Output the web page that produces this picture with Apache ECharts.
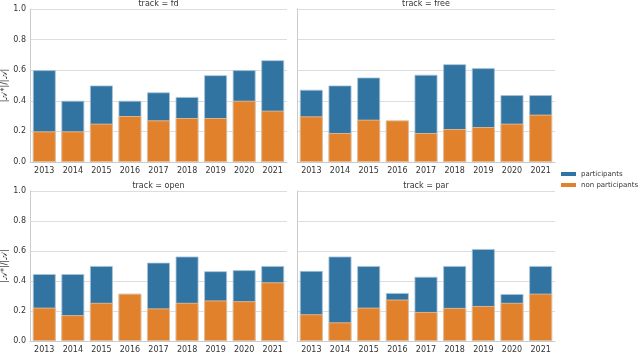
<!DOCTYPE html>
<html>
<head>
<meta charset="utf-8">
<script src="https://cdn.jsdelivr.net/npm/echarts@6/dist/echarts.min.js"></script>
<style>
  html, body { margin: 0; padding: 0; background: #fff; }
  #chart { width: 640px; height: 354px; }
</style>
</head>
<body>
<div id="chart"></div>
<script>
const years = ['2013', '2014', '2015', '2016', '2017', '2018', '2019', '2020', '2021']
const tracks = ['fd', 'free', 'open', 'par']
const yTicks = [0, 0.2, 0.4, 0.6, 0.8, 1.0]

// bar top of the blue bar (drawn behind) and the orange bar (drawn in front)
const fdParticipants = [0.60, 0.40, 0.50, 0.40, 0.455, 0.425, 0.567, 0.60, 0.665]
const fdNonParticipants = [0.20, 0.20, 0.25, 0.30, 0.272, 0.287, 0.287, 0.40, 0.335]
const freeParticipants = [0.472, 0.50, 0.552, 0.27, 0.57, 0.639, 0.613, 0.437, 0.437]
const freeNonParticipants = [0.298, 0.189, 0.276, 0.272, 0.189, 0.215, 0.228, 0.25, 0.309]
const openParticipants = [0.446, 0.446, 0.50, 0.315, 0.522, 0.563, 0.465, 0.472, 0.50]
const openNonParticipants = [0.222, 0.172, 0.254, 0.315, 0.217, 0.254, 0.27, 0.265, 0.391]
const parParticipants = [0.467, 0.563, 0.50, 0.32, 0.428, 0.50, 0.613, 0.313, 0.50]
const parNonParticipants = [0.178, 0.124, 0.222, 0.276, 0.193, 0.22, 0.233, 0.254, 0.315]

const participants = [fdParticipants, freeParticipants, openParticipants, parParticipants]
const nonParticipants = [fdNonParticipants, freeNonParticipants, openNonParticipants, parNonParticipants]

const blue = '#3274a1'
const orange = '#e1812c'
const font = 'DejaVu Sans'

const panels = [
  { left: 30, top: 9, width: 257 },
  { left: 297, top: 9, width: 258 },
  { left: 30, top: 191, width: 257 },
  { left: 297, top: 191, width: 258 }
]
const panelHeight = 153

const chart = echarts.init(document.getElementById('chart'))

const grid = panels.map(p => ({ left: p.left, top: p.top, width: p.width, height: panelHeight }))

const title = panels.map((p, i) => ({
  text: 'track = ' + tracks[i],
  left: p.left + p.width / 2,
  top: p.top - 9,
  textAlign: 'center',
  padding: 0,
  textStyle: { fontFamily: font, fontSize: 8, fontWeight: 'normal', color: '#333' }
}))

const xAxis = panels.map((p, i) => ({
  type: 'category',
  gridIndex: i,
  data: years,
  axisLine: { lineStyle: { color: '#cccccc', width: 1 } },
  axisTick: { show: false },
  axisLabel: { fontFamily: font, fontSize: 8, color: '#333', margin: 5 }
}))

const yAxis = panels.map((p, i) => ({
  type: 'value',
  gridIndex: i,
  min: yTicks[0],
  max: yTicks[yTicks.length - 1],
  interval: 0.2,
  name: i % 2 === 0 ? '|𝒜*|/|𝒜|' : '',
  nameLocation: 'middle',
  nameGap: 21,
  nameTextStyle: { fontFamily: font, fontSize: 8, color: '#333' },
  axisLine: { show: true, lineStyle: { color: '#cccccc', width: 1 } },
  axisTick: { show: false },
  splitLine: { lineStyle: { color: '#dddddd', width: 1 } },
  axisLabel: {
    show: i % 2 === 0,
    fontFamily: font,
    fontSize: 8,
    color: '#333',
    margin: 4,
    formatter: v => v.toFixed(1)
  }
}))

const series = []
panels.forEach((p, i) => {
  series.push({
    name: 'participants',
    type: 'bar',
    xAxisIndex: i,
    yAxisIndex: i,
    data: participants[i],
    barCategoryGap: '20%',
    barGap: '-100%',
    itemStyle: { color: blue, borderColor: '#a9c4d8', borderWidth: 0.8 },
    silent: true
  })
  series.push({
    name: 'non participants',
    type: 'bar',
    xAxisIndex: i,
    yAxisIndex: i,
    data: nonParticipants[i],
    barCategoryGap: '20%',
    barGap: '-100%',
    itemStyle: { color: orange, borderColor: '#f0c49c', borderWidth: 0.8 },
    silent: true
  })
})

chart.setOption({
  animation: false,
  title: title,
  legend: {
    data: ['participants', 'non participants'],
    orient: 'vertical',
    left: 561,
    top: 170,
    padding: 0,
    itemWidth: 15,
    itemHeight: 4,
    itemGap: 3,
    icon: 'rect',
    itemStyle: { borderWidth: 0 },
    textStyle: { fontFamily: font, fontSize: 7, lineHeight: 8, color: '#333', padding: [0, 0, 0, 0] }
  },
  grid: grid,
  xAxis: xAxis,
  yAxis: yAxis,
  series: series
})
</script>
</body>
</html>
